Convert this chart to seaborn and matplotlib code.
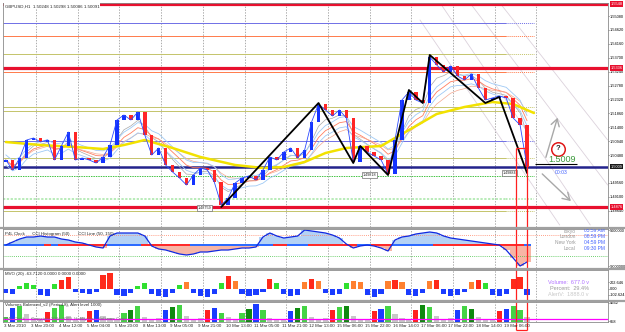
import numpy as np
import pandas as pd
import seaborn as sns
import matplotlib
matplotlib.use("Agg")
import matplotlib.pyplot as plt
import matplotlib.transforms as mtrans
from matplotlib.lines import Line2D

sns.set_style("white")
plt.rcParams['font.family'] = ['Liberation Sans', 'DejaVu Sans']

W, H = 625, 332

# GBPUSD price, one close every 4 hours
first_open = 1.50250
close = [1.50315, 1.49984, 1.50381, 1.50977, 1.51043, 1.50910, 1.50977, 1.50315, 1.50778, 1.51241,
         1.50315, 1.50381, 1.50315, 1.50215, 1.50414, 1.50811, 1.51639, 1.51804, 1.51639, 1.51903,
         1.51142, 1.50480, 1.50712, 1.50149, 1.49917, 1.49719, 1.49487, 1.49818, 1.50050, 1.49984,
         1.49586, 1.48825, 1.49057, 1.49553, 1.49719, 1.49785, 1.49653, 1.49984, 1.50414, 1.50315,
         1.50579, 1.50712, 1.50381, 1.50646, 1.51572, 1.52168, 1.51970, 1.51771, 1.51970, 1.51705,
         1.50248, 1.50778, 1.50579, 1.50447, 1.50315, 1.49851, 1.50977, 1.52301, 1.52565, 1.52301,
         1.52201, 1.53724, 1.53459, 1.53227, 1.53426, 1.53095, 1.52963, 1.53161, 1.52698, 1.52301,
         1.52367, 1.52433, 1.52367, 1.51705, 1.51473, 1.50091]

# zigzag vertices
zz_idx = [31, 45, 50, 51, 55, 58, 60, 61, 69, 71, 75]
zz_price = [1.48759, 1.52201, 1.50215, 1.50778, 1.49818, 1.52631, 1.52201, 1.53790, 1.52201, 1.52400, 1.49884]
zz_labels = ["1.48759", "1.49818", "1.49884"]
zz_label_idx = [28.6, 52.3, 72.5]
zz_label_price = [1.48726, 1.49818, 1.49884]

# slow moving average (yellow)
ma_idx = [0, 5, 10, 14, 17, 20, 24, 28, 33, 37, 40, 43, 46, 49, 54, 58, 62, 66, 70, 73, 76]
ma_price = [1.50910, 1.50811, 1.50745, 1.50679, 1.50811, 1.50977, 1.50712, 1.50414, 1.50149, 1.50050,
            1.50083, 1.50248, 1.50546, 1.50712, 1.50778, 1.51307, 1.51837, 1.52069, 1.52234, 1.52168,
            1.51870]

# horizontal support / resistance levels
level_price = [1.55478, 1.54849, 1.54419, 1.53823, 1.53360, 1.53227, 1.52069, 1.51936,
               1.50943, 1.50381, 1.50090, 1.49785, 1.49024, 1.48759, 1.48627]
level_kind = ["major", "blue", "orange", "olive", "major", "orange", "olive", "olive",
              "blue", "olive", "bid", "green", "lgreen", "major", "olive"]

price_ticks = [1.48640, 1.49100, 1.49560, 1.50480, 1.50940, 1.51400, 1.51860, 1.52320,
               1.52780, 1.53240, 1.53700, 1.54160, 1.54620, 1.55080]

cci = [0, 30, 60, 80, 80, 90, 80, 80, 60, 50, 30, 20, 0, -20, -30, 90, 120, 120, 120, 120,
       90, -10, -40, -50, -70, -90, -100, -90, -70, -70, -60, -50, -50, -40, -30, -30, -20, 80, 120, 90,
       70, 80, 90, 150, 140, 130, 120, 100, 70, 10, -30, -10, 0, -10, -30, -60, 50, 80, 90, 110,
       120, 130, 120, 90, 70, 60, 50, 40, 30, 20, 10, 0, -50, -130, -210, -170]

mvo = [-40, -50, 30, 60, 40, -60, -70, 50, 90, 120, -30, -40, -50, -30, 140, 160, -60, -70, -40, 30,
       60, -50, -70, -80, -40, 40, 70, -40, -70, -80, -50, 60, 130, 80, -50, -70, -60, -30, 100, 60,
       -50, -70, -60, 70, 100, 80, -40, -60, -50, 60, 80, 70, -60, -80, -50, 80, 90, 70, -60, -70,
       -40, 80, 90, -50, -70, -60, -30, 70, 90, 60, -60, -70, -50, 100, 120, -60]

volume = [1600, 3600, 4100, 2200, 1300, 1200, 2600, 3500, 4300, 1800, 1200, 1500, 2800, 3000, 1700, 1300,
          1100, 2400, 3200, 3900, 1600, 1200, 1400, 3100, 3800, 4200, 1700, 1100, 1300, 3000, 3600, 2400,
          1500, 1100, 2500, 3400, 4400, 3000, 1400, 1000, 1200, 2800, 3600, 3900, 1600, 1200, 1300, 3000,
          3800, 4000, 1800, 1200, 1100, 2900, 3300, 4100, 2300, 1300, 1100, 3200, 4300, 3700, 1800, 1200,
          1300, 3100, 3900, 3400, 1600, 1200, 1100, 2800, 3400, 4000, 3200, 1500]
vol_kind = list("gbgkkkrggkkkrbkkkgdgkkkbdgkkkrbgkkgdbgkkkbdgkkkrgdkkkrbgkkkrdgkkkbgdkkkrbggk")

time_labels = ["3 Mar 2010", "3 Mar 20:00", "4 Mar 12:00", "5 Mar 04:00", "5 Mar 20:00",
               "8 Mar 13:00", "9 Mar 05:00", "9 Mar 21:00", "10 Mar 13:00", "11 Mar 05:00",
               "11 Mar 21:00", "12 Mar 13:00", "15 Mar 06:00", "15 Mar 22:00", "16 Mar 14:00",
               "17 Mar 06:00", "17 Mar 22:00", "18 Mar 14:00", "19 Mar 06:00"]

clock_names = ["Tokyo", "London", "New York", "Local"]
clock_times = ["05:59 AM", "08:59 PM", "04:59 PM", "09:30 PM"]

# ---------------------------------------------------------------
idx = np.arange(len(close))
SMALL = 3.2
AXF = 2.8
XLIM = (-0.4, -0.4 + 605 / 6.95)
grid_pos = [4.35 + 6 * k for k in range(13)]

fig = plt.figure(figsize=(W / 100, H / 100), dpi=100)
fig.patch.set_facecolor("white")


def pane(top, bottom, left=3, right=608):
    a = fig.add_axes([left / W, 1 - bottom / H, (right - left) / W, (bottom - top) / H])
    a.set_xlim(*XLIM)
    a.set_xticks([])
    a.yaxis.tick_right()
    a.tick_params(axis="y", labelsize=AXF, length=1, width=0.4, pad=0.5, colors="black")
    for s in a.spines.values():
        s.set_color("#8a8a8a")
        s.set_linewidth(0.6)
    for g in grid_pos:
        a.axvline(g, color="#8c8c8c", lw=0.5, ls=(0, (2, 2)), zorder=0)
    return a


ax = pane(3, 227)
ax_cci = pane(229, 268)
ax_mvo = pane(270, 300)
ax_vol = pane(302, 322)

for yy in (228, 269, 301):
    fig.add_artist(Line2D([0, 1], [1 - yy / H] * 2, transform=fig.transFigure, color="#a0a0a0", lw=1.6))

# ---------------- main price pane ----------------
ax.set_ylim(1.48097, 1.55511)
ax.set_yticks(price_ticks)
ax.set_yticklabels([f"{p:.5f}" for p in price_ticks])

styles = {
    "major": dict(color="#e8102e", lw=2.3, full=True),
    "bid": dict(color="#23238c", lw=1.8, full=True),
    "blue": dict(color="#6f6fe6", lw=0.7, full=False),
    "orange": dict(color="#ff7a4a", lw=0.7, full=False),
    "olive": dict(color="#c4c46a", lw=0.7, full=False),
    "green": dict(color="#44c444", lw=0.7, full=False, ls=(0, (1.5, 1))),
    "lgreen": dict(color="#a6e6a6", lw=1.1, full=False, ls=(0, (1.5, 1))),
}
for p, k in zip(level_price, level_kind):
    st = styles[k]
    ls = st.get("ls", "-")
    if st["full"]:
        ax.axhline(p, color=st["color"], lw=st["lw"], zorder=2)
    else:
        ax.hlines(p, XLIM[0], 72, color=st["color"], lw=st["lw"], linestyles=[ls], zorder=2)
        ax.hlines(p, 72, 76, color=st["color"], lw=st["lw"], linestyles=[(0, (1, 1))], zorder=2)

# faint channel lines
for (x0, y0, x1, y1) in [(62.5, 1.55511, 84.1, 1.48163), (66.8, 1.55511, 86.6, 1.49487),
                         (71.1, 1.55511, 86.6, 1.50977), (59.6, 1.54948, 79.7, 1.48163)]:
    ax.plot([x0, x1], [y0, y1], color="#dcd2dc", lw=0.6, zorder=1)

s = pd.Series(close)
ema_mid = s.ewm(span=7).mean()
sns.lineplot(x=idx, y=s.ewm(span=4).mean(), ax=ax, color="#a8a8a8", lw=0.5, zorder=3)
sns.lineplot(x=idx, y=ema_mid, ax=ax, color="#ff7f62", lw=0.6, zorder=3)
sns.lineplot(x=idx, y=s.ewm(span=11).mean(), ax=ax, color="#f4a890", lw=0.5, zorder=3)
sns.lineplot(x=idx, y=ema_mid + 0.0017, ax=ax, color="#9ec9f5", lw=0.6, zorder=3)
sns.lineplot(x=idx, y=ema_mid - 0.0017, ax=ax, color="#9ec9f5", lw=0.6, zorder=3)
sns.lineplot(x=ma_idx, y=ma_price, ax=ax, color="#f2e200", lw=1.8, zorder=4)

opens = [first_open] + close[:-1]
df = pd.DataFrame({"i": idx, "open": opens, "close": close})
df["lo"] = df[["open", "close"]].min(axis=1)
df["hi"] = df[["open", "close"]].max(axis=1)
up = df["close"] >= df["open"]
ax.bar(df["i"], (df["hi"] - df["lo"]).clip(lower=0.00012), bottom=df["lo"], width=0.5,
       color=np.where(up, "#1433ff", "#ff2626"), linewidth=0, zorder=5)
sns.lineplot(x=idx, y=close, ax=ax, color="#2d4bff", lw=0.6, zorder=5)
sns.lineplot(x=zz_idx, y=zz_price, ax=ax, color="black", lw=1.3, zorder=6)

for t, xi, yp in zip(zz_labels, zz_label_idx, zz_label_price):
    ax.text(xi, yp, t, fontsize=2.7, ha="center", va="center", zorder=7,
            bbox=dict(boxstyle="square,pad=0.25", fc="white", ec="#707070", lw=0.5))

ax.text(0.003, 0.995, "GBPUSD,H1  1.50248 1.50298 1.50086 1.50091", transform=ax.transAxes,
        fontsize=SMALL, va="top", ha="left", zorder=8,
        bbox=dict(boxstyle="square,pad=0.15", fc="white", ec="none"))

ytr = ax.get_yaxis_transform()
for p, t, c in [(1.55478, "1.5548", "#e8102e"), (1.53360, "1.5336", "#e8102e"),
                (1.50090, "1.5009", "#1a1a1a"), (1.48759, "1.4876", "#e8102e")]:
    ax.text(1.004, p, t, transform=ytr, fontsize=AXF, color="white", va="center", ha="left",
            clip_on=False, bbox=dict(boxstyle="square,pad=0.15", fc=c, ec="none"))

# annotations on the right
ax.annotate("", xy=(79.5, 1.51804), xytext=(77.6, 1.50315),
            arrowprops=dict(arrowstyle="->,head_length=0.5,head_width=0.3", color="#a8a8a8", lw=1.0))
ax.annotate("", xy=(81.6, 1.48891), xytext=(76.9, 1.49917),
            arrowprops=dict(arrowstyle="->,head_length=0.5,head_width=0.3", color="#a8a8a8", lw=1.0))
ax.scatter([79.5], [1.50679], s=95, facecolor="white", edgecolor="#e01818", linewidth=1.1, zorder=8)
ax.text(79.5, 1.50679, "?", fontsize=5.5, fontweight="bold", ha="center", va="center", zorder=9)
ax.text(78.0, 1.50315, "1.5009", fontsize=6.5, color="#3c9a3c", ha="left", va="center", zorder=9)
ax.hlines(1.50182, 76.1, 82.2, color="black", lw=0.8, zorder=9)
ax.text(79.0, 1.49917, "00:03", fontsize=3.6, color="#4060ff", ha="left", va="center", zorder=9)

# red selection box
ax.vlines([73.4, 75.0], 1.48097, 1.50712, color="#ff2020", lw=0.9, zorder=9)
ax.hlines(1.50712, 73.4, 75.0, color="#ff2020", lw=0.9, zorder=9)

# ---------------- CCI pane ----------------
cci_arr = np.array(cci)
ax_cci.set_ylim(-230, 160)
ax_cci.bar(idx, cci_arr, width=1.0, color=np.where(cci_arr >= 0, "#b4d2f5", "#f7b5a5"), linewidth=0)
band = ["#2d6bff"] + ["#ff2a2a" if cci_arr[i] < cci_arr[i - 1] else "#2d6bff" for i in range(1, len(cci_arr))]
ax_cci.bar(idx, 28, bottom=-14, width=1.0, color=band, linewidth=0)
ax_cci.axhline(100, color="#ff8060", ls=(0, (1, 1.5)), lw=0.6)
ax_cci.axhline(-110, color="#40c040", ls=(0, (1, 1.5)), lw=0.6)
sns.lineplot(x=idx, y=cci_arr, ax=ax_cci, color="#1028e0", lw=0.9)
ax_cci.set_yticks([150, -210])
ax_cci.set_yticklabels(["9000000", "-9000000"])
ax_cci.text(0.004, 0.93, "P4L Clock      CCI Histogram (50)       CCI Line (50, 150)",
            transform=ax_cci.transAxes, fontsize=SMALL, va="top", ha="left")
for name, tm, yv in zip(clock_names, clock_times, [140, 80, 20, -40]):
    ax_cci.text(82.0, yv, name, fontsize=3.5, color="#9a9a9a", ha="right", va="center")
    ax_cci.text(83.2, yv, tm, fontsize=3.5, color="#4060ff", ha="left", va="center")

# ---------------- MVO pane ----------------
ax_mvo.set_ylim(-110, 190)
mvo_colors = ["#ff2a1a" if v >= 90 else "#ff8030" if v >= 70 else "#30e030" if v > 0 else "#1a3cff"
              for v in mvo]
ax_mvo.bar(idx, mvo, width=0.75, color=mvo_colors, linewidth=0)
ax_mvo.set_yticks([70, 0, -60])
ax_mvo.set_yticklabels(["202.646", "0.00", "-102.624"])
ax_mvo.text(0.004, 0.93, "MVO (20) -63.7120 0.0000 0.0000 0.0000", transform=ax_mvo.transAxes,
            fontsize=SMALL, va="top", ha="left")
ax_mvo.text(83.9, 70, "Volume:  677.0 v", fontsize=4, color="#b070ff", ha="right", va="center")
ax_mvo.text(83.9, 10, "Percent:  29.4%", fontsize=4, color="#9a9a9a", ha="right", va="center")
ax_mvo.text(83.9, -60, "AlertV:  1888.0 v", fontsize=4, color="#c8c8c8", ha="right", va="center")

# ---------------- volume pane ----------------
ax_vol.set_ylim(436, 4884)
vol_palette = {"g": "#44d444", "d": "#108a10", "b": "#1a3cff", "r": "#ff2020", "k": "#c8c8c8"}
ax_vol.bar(idx, volume, width=0.75, color=[vol_palette[k] for k in vol_kind], linewidth=0)
ax_vol.axhline(1000, color="#ff00ff", lw=0.9)
ax_vol.set_yticks([4662, 658])
ax_vol.set_yticklabels(["4662", "658"])
ax_vol.text(0.004, 0.95, "Volumes Balanced_v2 (Period 8), Alert level 1000)", transform=ax_vol.transAxes,
            fontsize=SMALL, va="top", ha="left")
ax_vol.text(0.004, 0.06, "P4L Clock  -  Copyright 2004-2009, Hobby Dev. Software Corp.",
            transform=ax_vol.transAxes, fontsize=SMALL, color="#707070", va="bottom", ha="left")

xtr = mtrans.blended_transform_factory(ax_vol.transData, ax_vol.transAxes)
for k, lab in enumerate(time_labels):
    ax_vol.text(4 * k - 0.3, -0.12, lab, transform=xtr, fontsize=SMALL, va="top", ha="left",
                clip_on=False)

for a in (ax_cci, ax_mvo):
    a.axvline(73.4, color="#ff2020", lw=0.9)
    a.axvline(75.0, color="#ff2020", lw=0.9)
ax_vol.vlines([73.4, 75.0], -1340, 4884, color="#ff2020", lw=0.9, clip_on=False)
ax_vol.hlines(-1340, 73.4, 75.0, color="#ff2020", lw=0.9, clip_on=False)

for a in (ax, ax_cci, ax_mvo, ax_vol):
    a.set_xlabel("")
    a.set_ylabel("")

fig.savefig("out.png", dpi=100, facecolor="white")
